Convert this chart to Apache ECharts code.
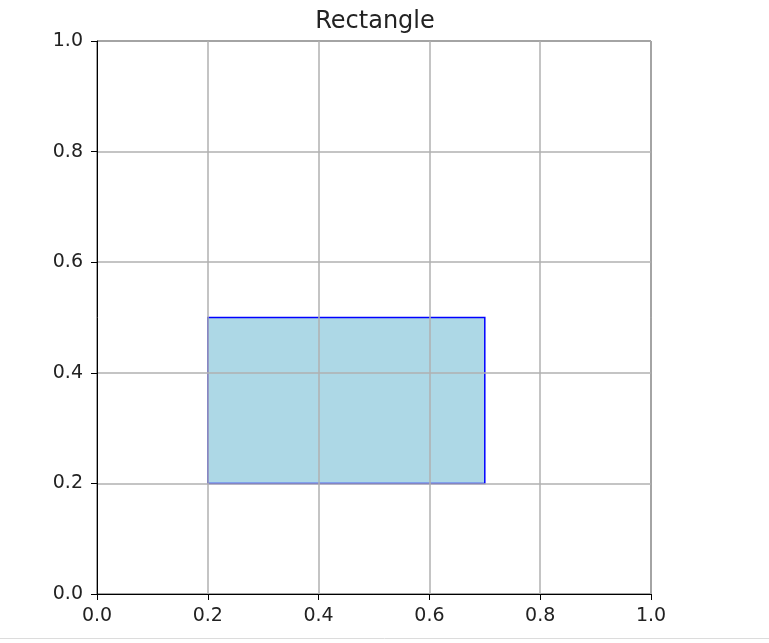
<!DOCTYPE html>
<html>
<head>
<meta charset="utf-8">
<script src="https://cdn.jsdelivr.net/npm/echarts@6/dist/echarts.min.js"></script>
<style>
    html, body { margin: 0; padding: 0; background: #fff; }
    #chart { width: 769px; height: 643px; }
</style>
</head>
<body>
<div id="chart"></div>
<script>
// 矩形的坐标范围
var rectX = [0.2, 0.7];
var rectY = [0.2, 0.5];

var chartTitle = 'Rectangle';

var font = 'DejaVu Sans';

function axisCommon() {
    return {
        type: 'value',
        min: 0,
        max: 1,
        interval: 0.2,
        z: 5,
        axisLine: { show: true, onZero: false, lineStyle: { color: '#000', width: 1 } },
        axisTick: { show: true, inside: false, length: 6, lineStyle: { color: '#000' } },
        axisLabel: {
            show: true,
            color: '#222',
            fontFamily: font,
            fontSize: 19,
            formatter: function (v) { return v.toFixed(1); }
        },
        splitLine: { show: true, lineStyle: { color: '#b0b0b0', width: 1.5 } }
    };
}

var xAxis = axisCommon();
xAxis.axisLabel.margin = 13;
var yAxis = axisCommon();
yAxis.axisLabel.margin = 14;

var option = {
    animation: false,
    backgroundColor: '#fff',
    textStyle: { fontFamily: font },
    title: {
        text: chartTitle,
        left: 370,
        textAlign: 'center',
        top: 5,
        textStyle: { fontFamily: font, fontSize: 24, fontWeight: 'normal', color: '#222' }
    },
    grid: {
        left: 97,
        right: 118,
        top: 41,
        bottom: 49,
        show: true,
        borderColor: '#000',
        borderWidth: 1,
        backgroundColor: 'transparent'
    },
    graphic: [{
        type: 'line',
        shape: { x1: 0, y1: 638.5, x2: 769, y2: 638.5 },
        style: { stroke: '#dcdcdc', lineWidth: 1 }
    }],
    xAxis: xAxis,
    yAxis: yAxis,
    series: [{
        type: 'custom',
        z: 1,
        data: [[rectX[0], rectY[0], rectX[1], rectY[1]]],
        renderItem: function (params, api) {
            var p0 = api.coord([api.value(0), api.value(1)]);
            var p1 = api.coord([api.value(2), api.value(3)]);
            return {
                type: 'rect',
                shape: {
                    x: p0[0],
                    y: p1[1],
                    width: p1[0] - p0[0],
                    height: p0[1] - p1[1]
                },
                style: {
                    fill: '#add8e6',
                    stroke: '#0000ff',
                    lineWidth: 1.5
                }
            };
        }
    }]
};

var chart = echarts.init(document.getElementById('chart'));
chart.setOption(option);
</script>
</body>
</html>
